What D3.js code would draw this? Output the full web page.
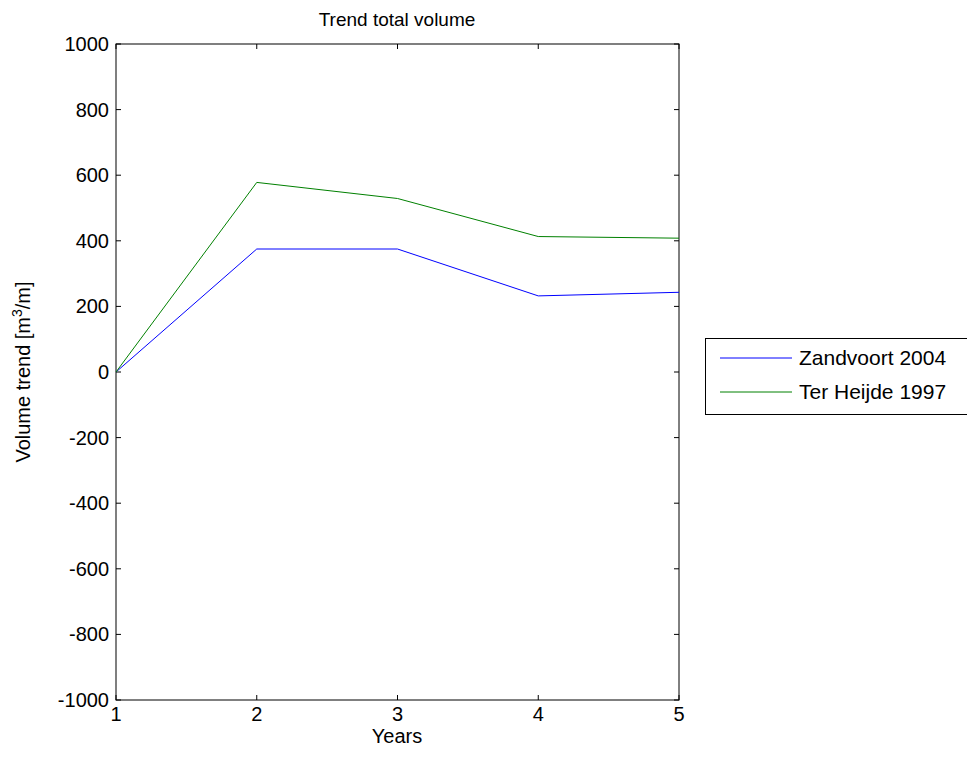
<!DOCTYPE html>
<html><head><meta charset="utf-8">
<script src="https://cdn.jsdelivr.net/npm/d3@7"></script>
<style>body{margin:0;background:#fff;} svg{display:block;} text{font-family:"Liberation Sans",Arial,sans-serif;}</style>
</head><body>
<svg id="chart" width="967" height="767"></svg>
<script>
const years = [1, 2, 3, 4, 5];
const zandvoort = [0, 375, 375, 232, 243];
const terHeijde = [0, 578, 529, 413, 408];
const seriesNames = ["Zandvoort 2004", "Ter Heijde 1997"];
const seriesColors = ["#0000ff", "#008000"];
const yTicks = [-1000, -800, -600, -400, -200, 0, 200, 400, 600, 800, 1000];
const xTicks = [1, 2, 3, 4, 5];

const svg = d3.select("#chart");
const L = 116, R = 679, T = 44, B = 700;
const x = d3.scaleLinear().domain([1, 5]).range([L, R]);
const y = d3.scaleLinear().domain([-1000, 1000]).range([B, T]);
const fs = 20;

// frame
svg.append("rect").attr("x", L).attr("y", T).attr("width", R - L).attr("height", B - T)
  .attr("fill", "none").attr("stroke", "#000").attr("stroke-width", 1);

// ticks (inward)
const tl = 5;
const g = svg.append("g").attr("stroke", "#000").attr("stroke-width", 1);
yTicks.forEach(v => {
  g.append("line").attr("x1", L).attr("x2", L + tl).attr("y1", y(v)).attr("y2", y(v));
  g.append("line").attr("x1", R).attr("x2", R - tl).attr("y1", y(v)).attr("y2", y(v));
});
xTicks.forEach(v => {
  g.append("line").attr("x1", x(v)).attr("x2", x(v)).attr("y1", B).attr("y2", B - tl);
  g.append("line").attr("x1", x(v)).attr("x2", x(v)).attr("y1", T).attr("y2", T + tl);
});

// tick labels
svg.selectAll(".yl").data(yTicks).enter().append("text")
  .attr("x", L - 7).attr("y", d => y(d)).attr("dy", "0.35em")
  .attr("text-anchor", "end").attr("font-size", fs).text(d => d);
svg.selectAll(".xl").data(xTicks).enter().append("text")
  .attr("x", d => x(d)).attr("y", B + 21)
  .attr("text-anchor", "middle").attr("font-size", fs).text(d => d);

// labels
svg.append("text").attr("x", 397).attr("y", 26).attr("text-anchor", "middle")
  .attr("font-size", 19).text("Trend total volume");
svg.append("text").attr("x", 397).attr("y", 743).attr("text-anchor", "middle")
  .attr("font-size", fs).text("Years");
const yl = svg.append("text").attr("transform", `translate(30,${(T + B) / 2}) rotate(-90)`)
  .attr("text-anchor", "middle").attr("font-size", fs);
yl.append("tspan").text("Volume trend [m");
yl.append("tspan").attr("dy", -8).attr("font-size", 14).text("3");
yl.append("tspan").attr("dy", 8).text("/m]");

// lines
const line = d3.line().x((d, i) => x(years[i])).y(d => y(d));
[zandvoort, terHeijde].forEach((s, i) => {
  svg.append("path").datum(s).attr("d", line).attr("fill", "none")
    .attr("stroke", seriesColors[i]).attr("stroke-width", 1);
});

// legend
svg.append("rect").attr("x", 705.5).attr("y", 338.5).attr("width", 280).attr("height", 76)
  .attr("fill", "#fff").attr("stroke", "#000").attr("stroke-width", 1);
seriesNames.forEach((n, i) => {
  const yy = 358 + i * 34;
  svg.append("line").attr("x1", 720).attr("x2", 792).attr("y1", yy).attr("y2", yy)
    .attr("stroke", seriesColors[i]).attr("stroke-width", 1);
  svg.append("text").attr("x", 799).attr("y", yy).attr("dy", "0.35em")
    .attr("font-size", 21).text(n);
});
</script>
</body></html>
